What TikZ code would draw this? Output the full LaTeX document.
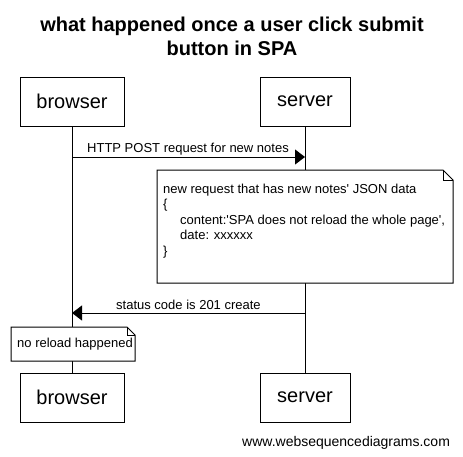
\documentclass[tikz,border=0pt]{standalone}
\usepackage{fontspec}
\setmainfont{Liberation Sans}
\usetikzlibrary{arrows.meta}
\begin{document}
\begin{tikzpicture}[x=1pt,y=-1pt,
  actor/.style={draw, line width=1pt, minimum height=49pt, inner sep=0pt,
    font=\fontsize{20}{24}\selectfont, fill=white},
  life/.style={line width=1pt},
  msg/.style={line width=1pt, -{Triangle[length=10pt,width=15pt]}},
  msgtext/.style={anchor=base west, inner sep=0pt, font=\fontsize{13}{15.5}\selectfont},
  notebox/.style={draw, line width=1pt, fill=white},
  titletext/.style={anchor=base, inner sep=0pt, font=\fontsize{20}{24}\selectfont\bfseries}]
\useasboundingbox (0,0) rectangle (463,456);

% title
\node[titletext] (t1) at (232,31) {what happened once a user click submit};
\node[titletext] (t2) at (232,55.5) {button in SPA};

% actors
\node[actor, minimum width=104pt] (b1) at (72,101.5) {browser};
\node[actor, minimum width=90pt] (s1) at (305,101.5) {server};
\node[actor, minimum width=104pt] (b2) at (72,397.5) {browser};
\node[actor, minimum width=90pt] (s2) at (305,397.5) {server};

% lifelines
\draw[life] (b1.south) -- (b2.north);
\draw[life] (s1.south) -- (s2.north);

% message 1
\coordinate (m1a) at (72,157);
\coordinate (m1b) at (305,157);
\draw[msg] (m1a) -- (m1b);
\node[msgtext] (l1) at (87,152) {HTTP POST request for new notes};

% note 1
\draw[notebox] (157,170) -- (443,170) -- (453,180) -- (453,283) -- (157,283) -- cycle;
\draw[line width=1pt] (443,170) -- (443,180) -- (453,180);
\node[msgtext] (n1) at (163,193) {new request that has new notes\textquotesingle{} JSON data};
\node[msgtext] (n2) at (163,208.5) {\{};
\node[msgtext] (n3) at (180,224) {content:\textquotesingle SPA does not reload the whole page\textquotesingle,};
\node[msgtext] (n4) at (180,239.5) {date: xxxxxx};
\node[msgtext] (n5) at (163,255) {\}};

% message 2
\coordinate (m2a) at (305,313);
\coordinate (m2b) at (72,313);
\draw[msg] (m2a) -- (m2b);
\node[msgtext] (l2) at (116,309) {status code is 201 create};

% note 2
\draw[notebox] (11,327) -- (127,327) -- (135,335) -- (135,361) -- (11,361) -- cycle;
\draw[line width=1pt] (127,327) -- (127,335) -- (135,335);
\node[msgtext] (n6) at (17,347) {no reload happened};

% watermark
\node[anchor=base west, inner sep=0pt, font=\fontsize{14}{16}\selectfont] (wm) at (242,446) {www.websequencediagrams.com};
\end{tikzpicture}
\end{document}
